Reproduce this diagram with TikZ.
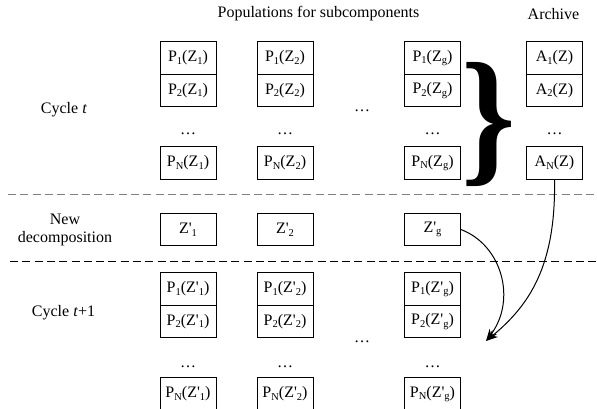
\documentclass[tikz,border=0pt]{standalone}
\usepackage{fontspec}
\setmainfont{Liberation Serif}
\newfontfamily\nolig{Liberation Serif}
\usepackage{graphicx}
\usetikzlibrary{arrows.meta}
\newcommand\lowsub[1]{\raisebox{-0.35ex}{\fontsize{10.5}{11}\selectfont #1}}
\newcommand\pr{{\nolig\symbol{39}}}
\begin{document}
\begin{tikzpicture}[x=1pt,y=-1pt,
  every node/.style={font=\fontsize{16}{18}\selectfont},
  cell/.style={draw,line width=0.8pt,minimum width=56pt,minimum height=32.5pt,inner sep=0pt},
  dots/.style={inner sep=0pt,anchor=base},
  sep/.style={dashed,dash pattern=on 8pt off 4.3pt,line width=1.2pt},
  arr/.style={line width=1pt,-{Stealth[length=12pt,width=9pt]}}]
\useasboundingbox (0,0) rectangle (597,409);
\clip (0,0) rectangle (597,409);
% headers
\node (title) at (318.5,14) {Populations for subcomponents};
\node (arch) at (553.5,14) {Archive};
\node (cyc) at (64,110) {Cycle \textit{t}};
\node[align=center] (newd) at (65,230) {New\\decomposition};
\node (cyc2) at (63.5,313) {Cycle \textit{t}+1};
% separators
\coordinate (s1a) at (8,194.5); \coordinate (s1b) at (597,194.5);
\coordinate (s2a) at (10,261.5); \coordinate (s2b) at (597,261.5);
\draw[sep,gray] (s1a) -- (s1b);
\draw[sep,black] (s2a) -- (s2b);
% cycle t
\node[cell] (a1) at (188,58) {P\lowsub{1}(Z\lowsub{1})};
\node[cell] (a2) at (188,90.5) {P\lowsub{2}(Z\lowsub{1})};
\node[dots] (ad) at (188,135) {\ldots};
\node[cell] (aN) at (188,163) {P\lowsub{N}(Z\lowsub{1})};
\node[cell] (b1) at (285,58) {P\lowsub{1}(Z\lowsub{2})};
\node[cell] (b2) at (285,90.5) {P\lowsub{2}(Z\lowsub{2})};
\node[dots] (bd) at (285,135) {\ldots};
\node[cell] (bN) at (285,163) {P\lowsub{N}(Z\lowsub{2})};
\node[dots] (md) at (362,112) {\ldots};
\node[cell] (g1) at (432.5,58) {P\lowsub{1}(Z\lowsub{g})};
\node[cell] (g2) at (432.5,90.5) {P\lowsub{2}(Z\lowsub{g})};
\node[dots] (gd) at (432.5,135) {\ldots};
\node[cell] (gN) at (432.5,163) {P\lowsub{N}(Z\lowsub{g})};
\node[cell] (r1) at (554.5,58) {A\lowsub{1}(Z)};
\node[cell] (r2) at (554.5,90.5) {A\lowsub{2}(Z)};
\node[dots] (rd) at (554.5,135) {\ldots};
\node[cell] (rN) at (554.5,163) {A\lowsub{N}(Z)};
\node[inner sep=0pt] (brace) at (489,124) {\scalebox{0.92}[1]{\fontsize{150}{150}\selectfont\bfseries\}}};
% new decomposition
\node[cell] (z1) at (188,229.5) {Z\pr\lowsub{1}};
\node[cell] (z2) at (285,229.5) {Z\pr\lowsub{2}};
\node[cell] (zg) at (432.5,229.5) {Z\pr\lowsub{g}};
% cycle t+1
\node[cell] (c1) at (188,289) {P\lowsub{1}(Z\pr\lowsub{1})};
\node[cell] (c2) at (188,321.5) {P\lowsub{2}(Z\pr\lowsub{1})};
\node[dots] (cd) at (188,367) {\ldots};
\node[cell] (cN) at (188,394) {P\lowsub{N}(Z\pr\lowsub{1})};
\node[cell] (d1) at (285,289) {P\lowsub{1}(Z\pr\lowsub{2})};
\node[cell] (d2) at (285,321.5) {P\lowsub{2}(Z\pr\lowsub{2})};
\node[dots] (dd) at (285,367) {\ldots};
\node[cell] (dN) at (285,394) {P\lowsub{N}(Z\pr\lowsub{2})};
\node[dots] (md2) at (362,342) {\ldots};
\node[cell] (h1) at (432.5,289) {P\lowsub{1}(Z\pr\lowsub{g})};
\node[cell] (h2) at (432.5,321.5) {P\lowsub{2}(Z\pr\lowsub{g})};
\node[dots] (hd) at (432.5,367) {\ldots};
\node[cell] (hN) at (432.5,394) {P\lowsub{N}(Z\pr\lowsub{g})};
% arrows
\coordinate (tip) at (486,341);
\draw[arr] (zg.east) .. controls (502,245) and (517,300) .. (tip);
\draw[arr] (rN.south) .. controls (556,265) and (530,305) .. (tip);
\end{tikzpicture}
\end{document}
